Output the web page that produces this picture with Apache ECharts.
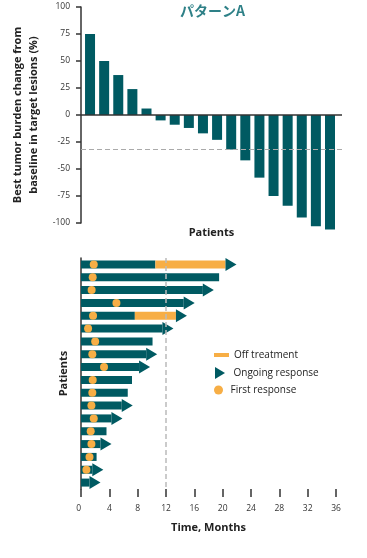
<!DOCTYPE html>
<html>
<head>
<meta charset="utf-8">
<script src="https://cdn.jsdelivr.net/npm/echarts@6/dist/echarts.min.js"></script>
<style>
html,body{margin:0;padding:0;background:#fff;}
#c{width:367px;height:558px;}
</style>
</head>
<body>
<div id="c"></div>
<script>
// ---- Waterfall (top) ----
var patients = [1,2,3,4,5,6,7,8,9,10,11,12,13,14,15,16,17,18];
var tumorChange = [75, 50, 37, 24, 6, -5, -9, -12, -17, -23, -32, -42, -58, -75, -84, -95, -103, -106];
var thresholdLine = -32;
var yTicksTop = {min: -100, max: 100, interval: 25};

// ---- Swimmer (bottom) ----
var rows = ['1','2','3','4','5','6','7','8','9','10','11','12','13','14','15','16','17','18'];
var onTreatEnd  = [10.5, 19.5, 17.2, 14.5, 7.6, 11.5, 10.1, 9.2, 8.2, 7.2, 6.6, 5.75, 4.3, 3.6, 2.75, 2.2, 1.6, 1.2];
var offTreatEnd = [20.4, null, null, null, 13.4, null, null, null, null, null, null, null, null, null, null, null, null, null];
var ongoing     = [1, 0, 1, 1, 1, 1, 0, 1, 1, 0, 0, 1, 1, 0, 1, 0, 1, 1];
var firstResp   = [1.8, 1.65, 1.5, 5.0, 1.7, 1.0, 2.0, 1.6, 3.25, 1.65, 1.6, 1.47, 1.8, 1.37, 1.47, 1.2, 0.76, null];
var timeAxis = {min: 0, max: 36, interval: 4};
var refMonth = 12;

var TEAL = '#005a62', ORANGE = '#f7ae45', DARK = '#333';
var FONT = 'Open Sans';

var offPart = offTreatEnd.map(function(v, i){ return v == null ? 0 : +(v - onTreatEnd[i]).toFixed(2); });
var arrowData = [];
var dotData = [];
rows.forEach(function(r, i){
  var end = offTreatEnd[i] != null ? offTreatEnd[i] : onTreatEnd[i];
  if (ongoing[i]) arrowData.push([end, r]);
  if (firstResp[i] != null) dotData.push([firstResp[i], r]);
});

var chart = echarts.init(document.getElementById('c'), null, {renderer: 'canvas'});
chart.setOption({
  animation: false,
  backgroundColor: '#fff',
  textStyle: {fontFamily: FONT},
  title: {
    text: 'パターンA', left: 180, top: 4, padding: 0,
    textStyle: {fontFamily: 'Noto Sans CJK JP', fontSize: 14, fontWeight: 'bold', color: '#2e8087'}
  },
  legend: [
    {data: [{name: 'Off treatment', icon: 'rect'}], left: 214, top: 350, padding: 0,
     itemWidth: 15, itemHeight: 4, textStyle: {fontSize: 10, color: '#222', fontFamily: FONT}},
    {data: [{name: 'Ongoing response', icon: 'path://M0,0L10,6L0,12Z'}], left: 215, top: 367, padding: 0,
     itemWidth: 11, itemHeight: 12, textStyle: {fontSize: 10, color: '#222', fontFamily: FONT, padding: [0,0,0,3]}},
    {data: [{name: 'First response', icon: 'circle'}], left: 214, top: 385, padding: 0,
     itemWidth: 14, itemHeight: 9, textStyle: {fontSize: 10, color: '#222', fontFamily: FONT}}
  ],
  grid: [
    {left: 81, right: 25, top: 7, bottom: 335, containLabel: false},
    {left: 81, right: 31, top: 258, bottom: 69, containLabel: false}
  ],
  xAxis: [
    {gridIndex: 0, type: 'value', min: 0.36, max: 18.85,
     axisLine: {show: false}, axisTick: {show: false}, axisLabel: {show: false}, splitLine: {show: false},
     name: 'Patients', nameLocation: 'middle', nameGap: 4,
     nameTextStyle: {fontSize: 11, fontWeight: 'bold', color: '#222', fontFamily: FONT}},
    {gridIndex: 1, type: 'value', min: timeAxis.min, max: timeAxis.max, interval: timeAxis.interval,
     axisLine: {onZero: false, lineStyle: {color: DARK, width: 1.5}},
     axisTick: {show: true, length: 8, lineStyle: {color: DARK, width: 1.5}},
     axisLabel: {fontSize: 8.5, color: '#333', margin: 15, alignMinLabel: 'right', fontFamily: FONT},
     splitLine: {show: false},
     name: 'Time, Months', nameLocation: 'middle', nameGap: 33,
     nameTextStyle: {fontSize: 11, fontWeight: 'bold', color: '#222', fontFamily: FONT}}
  ],
  yAxis: [
    {gridIndex: 0, type: 'value', min: yTicksTop.min, max: yTicksTop.max, interval: yTicksTop.interval,
     axisLine: {show: true, lineStyle: {color: DARK, width: 1.5}},
     axisTick: {show: true, length: 5, lineStyle: {color: DARK, width: 1.5}},
     axisLabel: {fontSize: 8.5, color: '#333', margin: 11, fontFamily: FONT},
     splitLine: {show: false},
     name: 'Best tumor burden change from\nbaseline in target lesions (%)',
     nameLocation: 'middle', nameRotate: 90, nameGap: 33,
     nameTextStyle: {fontSize: 11, fontWeight: 'bold', color: '#222', lineHeight: 16, fontFamily: FONT}},
    {gridIndex: 1, type: 'category', data: rows, inverse: true,
     axisLine: {show: true, onZero: false, lineStyle: {color: DARK, width: 1.5}},
     axisTick: {show: false}, axisLabel: {show: false}, splitLine: {show: false},
     name: 'Patients', nameLocation: 'middle', nameRotate: 90, nameGap: 12,
     nameTextStyle: {fontSize: 11, fontWeight: 'bold', color: '#222', fontFamily: FONT}}
  ],
  series: [
    {type: 'bar', name: 'Tumor change', xAxisIndex: 0, yAxisIndex: 0, barWidth: 10, clip: false,
     data: patients.map(function(p, i){ return [p, tumorChange[i]]; }),
     itemStyle: {color: TEAL},
     markLine: {silent: true, symbol: 'none', label: {show: false},
       data: [
         {yAxis: 0, lineStyle: {color: DARK, width: 1.5, type: 'solid'}},
         {yAxis: thresholdLine, lineStyle: {color: '#aaa', width: 1.2, type: [5, 3]}}
       ]}},
    {type: 'bar', name: 'On treatment', xAxisIndex: 1, yAxisIndex: 1, stack: 'swim', barWidth: 8,
     data: onTreatEnd, itemStyle: {color: TEAL},
     markLine: {silent: true, symbol: 'none', label: {show: false},
       data: [{xAxis: refMonth}], lineStyle: {color: '#bbb', width: 1.5, type: [5, 3]}}},
    {type: 'bar', name: 'Off treatment', xAxisIndex: 1, yAxisIndex: 1, stack: 'swim', barWidth: 8,
     data: offPart, itemStyle: {color: ORANGE}},
    {type: 'scatter', name: 'Ongoing response', xAxisIndex: 1, yAxisIndex: 1,
     symbol: 'triangle', symbolSize: [13, 11], symbolRotate: -90, symbolOffset: [5.5, 0],
     data: arrowData, itemStyle: {color: TEAL, opacity: 1}, z: 3},
    {type: 'scatter', name: 'First response', xAxisIndex: 1, yAxisIndex: 1,
     symbol: 'circle', symbolSize: 8, data: dotData, itemStyle: {color: ORANGE, opacity: 1}, z: 4}
  ]
});
</script>
</body>
</html>
